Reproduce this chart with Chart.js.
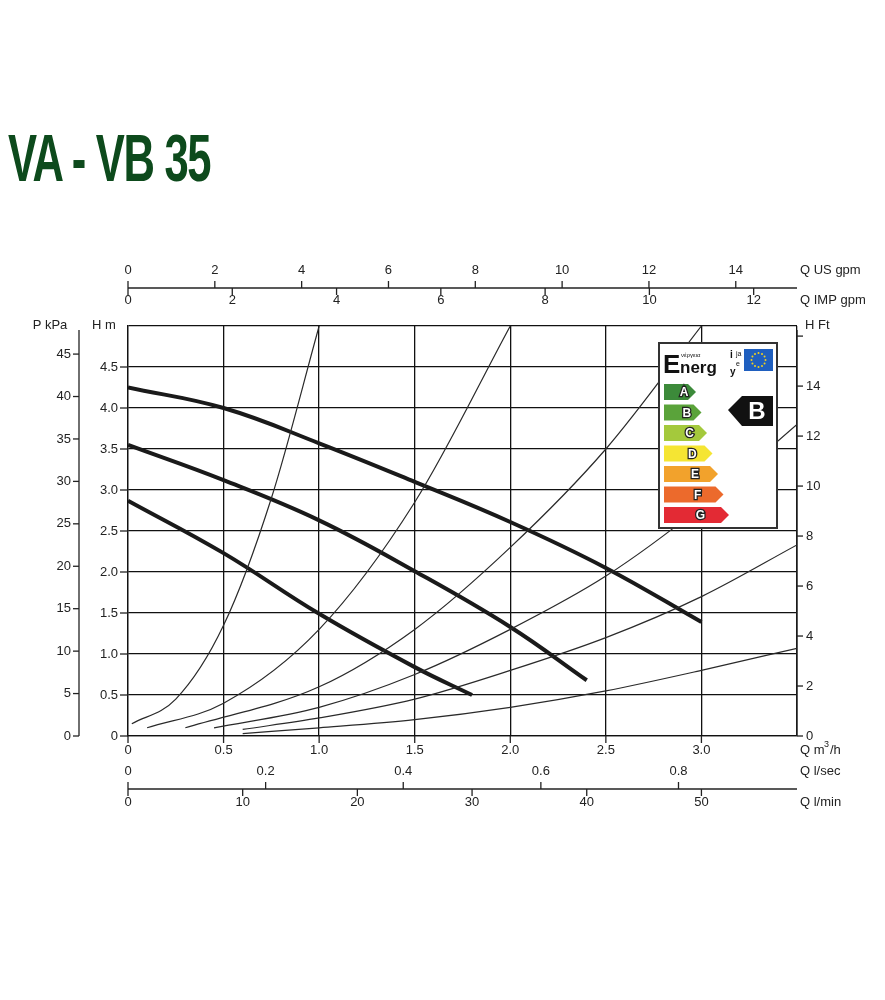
<!DOCTYPE html>
<html><head><meta charset="utf-8">
<script src="https://cdn.jsdelivr.net/npm/chart.js@4"></script>
<style>
body{margin:0;background:#fff;width:885px;height:1000px;overflow:hidden;position:relative;font-family:"Liberation Sans",Arial,sans-serif}
#title{position:absolute;left:8px;top:120px;font-family:"Liberation Sans",Arial,sans-serif;font-weight:bold;font-size:66px;color:#0d4a1c;transform:scaleX(0.66);transform-origin:left top;letter-spacing:-2px;white-space:nowrap}
#wrap{position:absolute;left:0;top:0;width:885px;height:1000px}
</style></head><body>
<div id="title">VA - VB 35</div>
<div id="wrap"><canvas id="c" width="885" height="1000"></canvas></div>
<script>
// Pump curves (Q m3/h, H m)
const pumpQ = [0, 0.5, 1.0, 1.5, 2.0, 2.5, 3.0];
const pumpHigh = [4.25, 4.0, 3.57, 3.1, 2.61, 2.05, 1.39];
const pumpMidQ = [0, 0.5, 1.0, 1.5, 2.0, 2.4];
const pumpMid = [3.55, 3.12, 2.63, 2.01, 1.33, 0.68];
const pumpLowQ = [0, 0.5, 1.0, 1.5, 1.8];
const pumpLow = [2.87, 2.23, 1.49, 0.84, 0.5];
// System curves
const sys1Q = [0.02, 0.25, 0.5, 0.75, 1.0];
const sys1H = [0.15, 0.45, 1.35, 2.9, 5.0];
const sys2Q = [0.1, 0.5, 1.0, 1.5, 2.0];
const sys2H = [0.1, 0.4, 1.3, 2.85, 5.0];
const sys3Q = [0.3, 1.0, 1.5, 2.0, 2.5, 3.0];
const sys3H = [0.1, 0.6, 1.3, 2.3, 3.5, 5.0];
const sys4Q = [0.45, 1.0, 1.5, 2.0, 2.5, 3.0, 3.5];
const sys4H = [0.1, 0.35, 0.75, 1.3, 1.95, 2.8, 3.8];
const sys5Q = [0.6, 1.0, 1.5, 2.0, 2.5, 3.0, 3.5];
const sys5H = [0.08, 0.22, 0.45, 0.8, 1.2, 1.7, 2.33];
const sys6Q = [0.6, 1.0, 1.5, 2.0, 2.5, 3.0, 3.5];
const sys6H = [0.03, 0.1, 0.2, 0.35, 0.55, 0.8, 1.07];
// Tick labels
const xTicks = ['0','0.5','1.0','1.5','2.0','2.5','3.0'];
const hTicks = ['0','0.5','1.0','1.5','2.0','2.5','3.0','3.5','4.0','4.5'];
const kpaTicks = [0,5,10,15,20,25,30,35,40,45];
const ftTicks = [0,2,4,6,8,10,12,14];
const usGpmTicks = [0,2,4,6,8,10,12,14];
const impGpmTicks = [0,2,4,6,8,10,12];
const lsecTicks = ['0','0.2','0.4','0.6','0.8'];
const lminTicks = [0,10,20,30,40,50];
const energyClasses = ['A','B','C','D','E','F','G'];
const energyColors = ['#3c8a3a','#5aa33a','#a4c93c','#f5e533','#f2a22c','#ec6a2c','#e32a34'];

const pts = (q,h)=>q.map((v,i)=>({x:v,y:h[i]}));
const thick = (q,h)=>({data:pts(q,h),borderColor:'#1a1a1a',borderWidth:4,pointRadius:0,tension:0.4,fill:false});
const thin = (q,h)=>({data:pts(q,h),borderColor:'#2a2a2a',borderWidth:1.2,pointRadius:0,cubicInterpolationMode:'monotone',fill:false});

const F = '13px "Liberation Sans", Arial, sans-serif';
const extra = {
 id:'extra',
 afterDraw(ch){
  const c=ch.ctx, x=ch.scales.x, y=ch.scales.y, a=ch.chartArea;
  c.save(); c.font=F; c.fillStyle='#222'; c.strokeStyle='#222'; c.lineWidth=1.3;
  const line=(x1,y1,x2,y2)=>{c.beginPath();c.moveTo(x1,y1);c.lineTo(x2,y2);c.stroke();};
  const txt=(t,px,py,al)=>{c.textAlign=al||'center';c.textBaseline='middle';c.fillText(t,px,py);};
  // H m ticks & labels
  hTicks.forEach((t,i)=>{const py=y.getPixelForValue(i*0.5);line(a.left-8,py,a.left,py);txt(t,a.left-10,py,'right');});
  txt('H m',104,325);
  // kPa axis
  const kx=79; line(kx,330,kx,a.bottom);
  kpaTicks.forEach(k=>{const py=y.getPixelForValue(k*0.10197*1.015);line(kx-6,py,kx,py);txt(String(k),kx-8,py,'right');});
  txt('P kPa',50,325);
  // ft axis
  line(a.right,330,a.right,a.bottom);
  const pf=y.getPixelForValue(16*0.3048); line(a.right,pf,a.right+6,pf);
  ftTicks.forEach(f=>{const py=y.getPixelForValue(f*0.3048);line(a.right,py,a.right+6,py);txt(String(f),a.right+9,py,'left');});
  txt('H Ft',805,325,'left');
  // bottom m3/h labels
  xTicks.forEach((t,i)=>{const px=x.getPixelForValue(i*0.5);line(px,a.bottom,px,a.bottom+7);txt(t,px,750);});
  c.textAlign='left';c.fillText('Q m',800,750);
  c.font='9px "Liberation Sans", Arial';c.fillText('3',824,745);c.font=F;c.fillText('/h',830,750);
  // l/sec + l/min
  const ly=789; line(a.left,ly,a.right,ly);
  lsecTicks.forEach((t,i)=>{const px=x.getPixelForValue(i*0.2*3.6);line(px,ly,px,ly-7);txt(t,px,771);});
  lminTicks.forEach(v=>{const px=x.getPixelForValue(v*0.06);line(px,ly,px,ly+7);txt(String(v),px,802);});
  txt('Q l/sec',800,771,'left'); txt('Q l/min',800,802,'left');
  // top gpm
  const ty=288; line(a.left,ty,a.right,ty);
  usGpmTicks.forEach(v=>{const px=x.getPixelForValue(v/4.403);line(px,ty,px,ty-7);txt(String(v),px,270);});
  impGpmTicks.forEach(v=>{const px=x.getPixelForValue(v/3.666);line(px,ty,px,ty+7);txt(String(v),px,300);});
  txt('Q US gpm',800,270,'left'); txt('Q IMP gpm',800,300,'left');
  // energy label
  const bx=659,by=343,bw=118,bh=185;
  c.fillStyle='#fff';c.fillRect(bx,by,bw,bh);c.lineWidth=2;c.strokeStyle='#333';c.strokeRect(bx,by,bw,bh);
  c.fillStyle='#111';c.textAlign='left';c.textBaseline='alphabetic';
  c.font='bold 26px "Liberation Sans", Arial';c.fillText('E',663,373);
  c.font='bold 17px "Liberation Sans", Arial';c.fillText('nerg',680,373);
  c.font='6px "Liberation Sans", Arial';c.fillText('νέργεια',681,357);
  c.font='bold 10px "Liberation Sans", Arial';c.fillText('i',730,358);c.fillText('y',730,375);
  c.font='7px "Liberation Sans", Arial';c.fillText('ja',736,356);c.fillText('e',736,366);
  c.fillStyle='#1f5fbf';c.fillRect(744,349,29,22);
  c.fillStyle='#f3d21c';for(let k=0;k<12;k++){const an=k*Math.PI/6;c.beginPath();c.arc(758.5+7*Math.cos(an),360+7*Math.sin(an),1,0,7);c.fill();}
  energyClasses.forEach((e,i)=>{const yy=384+i*20.5,w=24+i*5.5,h=16;
   c.fillStyle=energyColors[i];c.beginPath();c.moveTo(664,yy);c.lineTo(664+w,yy);c.lineTo(664+w+8,yy+h/2);c.lineTo(664+w,yy+h);c.lineTo(664,yy+h);c.closePath();c.fill();
   c.font='bold 12px "Liberation Sans", Arial';c.textAlign='center';c.textBaseline='middle';
   c.lineWidth=2.5;c.strokeStyle='#222';c.strokeText(e,672+w/2,yy+h/2+1);c.fillStyle='#fff';c.fillText(e,672+w/2,yy+h/2+1);});
  c.fillStyle='#111';c.beginPath();c.moveTo(728,410);c.lineTo(742,396);c.lineTo(773,396);c.lineTo(773,426);c.lineTo(742,426);c.closePath();c.fill();
  c.fillStyle='#fff';c.font='bold 24px "Liberation Sans", Arial';c.textAlign='center';c.textBaseline='middle';c.fillText('B',757,412);
  c.restore();
 }
};

new Chart(document.getElementById('c'),{
 type:'line',
 data:{datasets:[thin(sys1Q,sys1H),thin(sys2Q,sys2H),thin(sys3Q,sys3H),thin(sys4Q,sys4H),thin(sys5Q,sys5H),thin(sys6Q,sys6H),
   thick(pumpQ,pumpHigh),thick(pumpMidQ,pumpMid),thick(pumpLowQ,pumpLow)]},
 options:{responsive:false,animation:false,
  layout:{padding:{left:128,right:88,top:326,bottom:264}},
  plugins:{legend:{display:false},tooltip:{enabled:false}},
  scales:{
   x:{type:'linear',min:0,max:3.5,ticks:{display:false,stepSize:0.5},grid:{color:'#111',lineWidth:1.3,drawTicks:false},border:{color:'#111',width:1.3},afterFit:s=>{s.height=0;}},
   y:{type:'linear',min:0,max:5,ticks:{display:false,stepSize:0.5},grid:{color:'#111',lineWidth:1.3,drawTicks:false},border:{color:'#111',width:1.3},afterFit:s=>{s.width=0;}}
  }
 },
 plugins:[extra]
});
</script></body></html>
